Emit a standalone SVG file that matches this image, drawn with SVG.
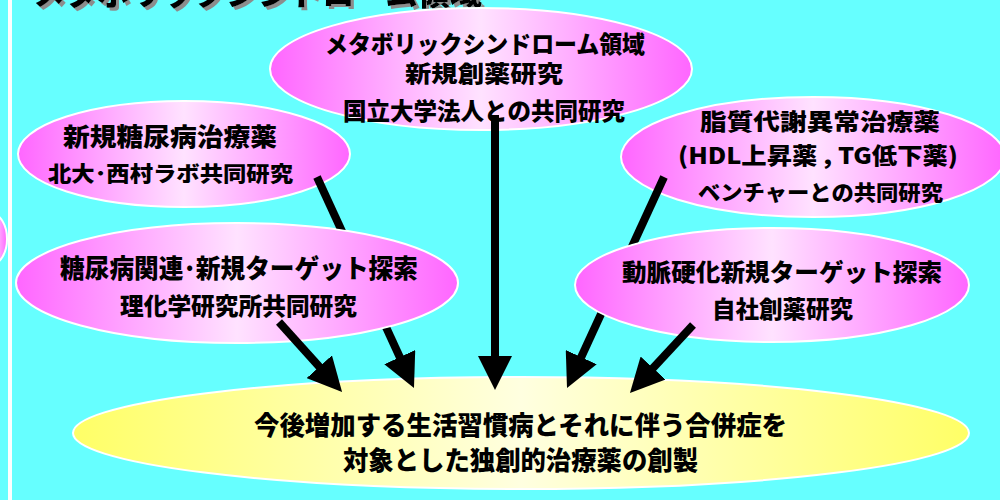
<svg xmlns="http://www.w3.org/2000/svg" width="1000" height="500" viewBox="0 0 1000 500">
<defs>
<linearGradient id="pink" x1="0" y1="0" x2="1" y2="0">
<stop offset="0" stop-color="#FF66FF"/>
<stop offset="0.5" stop-color="#FFE2FF"/>
<stop offset="1" stop-color="#FF66FF"/>
</linearGradient>
<linearGradient id="yellow" x1="0" y1="0" x2="1" y2="0">
<stop offset="0" stop-color="#FFFF66"/>
<stop offset="0.5" stop-color="#FFFFE0"/>
<stop offset="1" stop-color="#FFFF66"/>
</linearGradient>
<filter id="shadow" x="-5%" y="-50%" width="110%" height="200%">
<feDropShadow dx="3" dy="3" stdDeviation="0" flood-color="#8c8c8c" flood-opacity="1"/>
</filter>
<marker id="ah" markerUnits="userSpaceOnUse" markerWidth="34" markerHeight="34" viewBox="0 0 34 34" refX="1" refY="17" orient="auto">
<path d="M0,0 L34,17 L0,34 z" fill="#000"/>
</marker>
<mask id="mA" maskUnits="userSpaceOnUse" x="0" y="0" width="1000" height="500">
<rect x="0" y="0" width="1000" height="500" fill="#fff"/>
<ellipse cx="237" cy="283" rx="222" ry="61" fill="#000"/>
</mask>
<mask id="mD" maskUnits="userSpaceOnUse" x="0" y="0" width="1000" height="500">
<rect x="0" y="0" width="1000" height="500" fill="#fff"/>
<ellipse cx="772" cy="285" rx="198" ry="58" fill="#000"/>
</mask>
</defs>
<style>
.bg{fill:#66FFFF}
.pk{fill:url(#pink);stroke:#fff;stroke-width:2}
.yl{fill:url(#yellow);stroke:#fff;stroke-width:2}
text{font-family:"Noto Sans CJK JP","Noto Sans",sans-serif;font-weight:900;fill:#000;text-anchor:middle}
.ttl{text-anchor:start;font-size:32px;filter:url(#shadow)}
.conn line{stroke:#000;stroke-width:8;fill:none}
</style>
<rect class="bg" x="0" y="0" width="1000" height="500"/>
<rect x="8" y="0" width="4" height="500" fill="#fff"/>
<g id="title">
<text class="ttl" x="33" y="5" textLength="449" lengthAdjust="spacingAndGlyphs">メタボリックシンドローム領域</text>
</g>
<g id="node-left-partial">
<ellipse class="pk" cx="-8" cy="239" rx="15" ry="25"/>
</g>
<g id="node-goal">
<ellipse class="yl" cx="521" cy="433" rx="448" ry="56"/>
<text x="520.5" y="434.5" font-size="26" textLength="533" lengthAdjust="spacingAndGlyphs">今後増加する生活習慣病とそれに伴う合併症を</text>
<text x="520.5" y="470" font-size="26" textLength="355" lengthAdjust="spacingAndGlyphs">対象とした独創的治療薬の創製</text>
</g>
<g id="node-metabolic">
<ellipse class="pk" cx="481" cy="69" rx="211" ry="61"/>
<text x="485" y="52.5" font-size="24" textLength="320" lengthAdjust="spacingAndGlyphs">メタボリックシンドローム領域</text>
<text x="484" y="81.5" font-size="23" textLength="158" lengthAdjust="spacingAndGlyphs">新規創薬研究</text>
<text x="484" y="119.5" font-size="24" textLength="282" lengthAdjust="spacingAndGlyphs">国立大学法人との共同研究</text>
</g>
<g id="node-diabetes">
<ellipse class="pk" cx="184" cy="154" rx="166" ry="53"/>
<text x="170" y="145.5" font-size="25" textLength="214" lengthAdjust="spacingAndGlyphs">新規糖尿病治療薬</text>
<text x="170.5" y="181" font-size="21" textLength="245" lengthAdjust="spacingAndGlyphs">北大･西村ラボ共同研究</text>
</g>
<g id="node-lipid">
<ellipse class="pk" cx="813" cy="157" rx="192" ry="60"/>
<text x="820" y="129.7" font-size="23" textLength="240" lengthAdjust="spacingAndGlyphs">脂質代謝異常治療薬</text>
<text x="818" y="164" font-size="23" textLength="280" lengthAdjust="spacingAndGlyphs">(HDL上昇薬 , TG低下薬)</text>
<text x="820.5" y="200" font-size="21" textLength="245" lengthAdjust="spacingAndGlyphs">ベンチャーとの共同研究</text>
</g>
<g id="node-diabetes-target">
<ellipse class="pk" cx="237" cy="283" rx="221" ry="60"/>
<text x="239" y="277.5" font-size="26" textLength="358" lengthAdjust="spacingAndGlyphs">糖尿病関連･新規ターゲット探索</text>
<text x="238.5" y="314.6" font-size="24" textLength="237" lengthAdjust="spacingAndGlyphs">理化学研究所共同研究</text>
</g>
<g id="node-atherosclerosis">
<ellipse class="pk" cx="772" cy="285" rx="197" ry="57"/>
<text x="782" y="280.6" font-size="24" textLength="320" lengthAdjust="spacingAndGlyphs">動脈硬化新規ターゲット探索</text>
<text x="782.5" y="317.6" font-size="24" textLength="141" lengthAdjust="spacingAndGlyphs">自社創薬研究</text>
</g>
<g id="connectors" class="conn">
<line x1="317" y1="177" x2="400.2" y2="358" marker-end="url(#ah)" mask="url(#mA)"/>
<line x1="279" y1="322" x2="320" y2="367.5" marker-end="url(#ah)"/>
<line x1="495" y1="115" x2="495" y2="357" marker-end="url(#ah)"/>
<line x1="664" y1="177" x2="580.8" y2="358" marker-end="url(#ah)" mask="url(#mD)"/>
<line x1="693" y1="325" x2="652.4" y2="368.8" marker-end="url(#ah)"/>
</g>
</svg>
